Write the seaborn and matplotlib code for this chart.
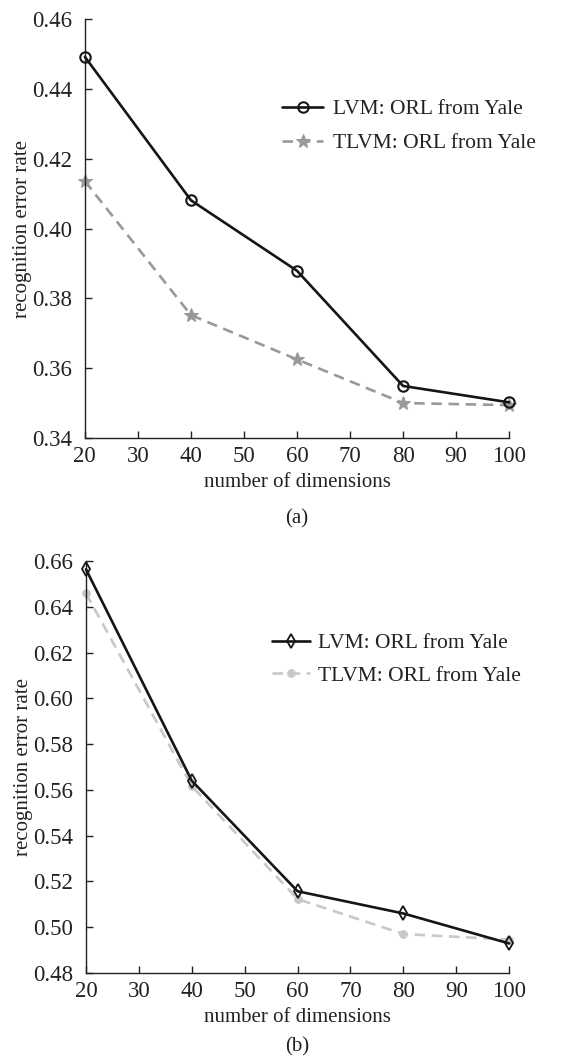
import matplotlib
matplotlib.use("Agg")
import matplotlib.pyplot as plt
import seaborn as sns
import pandas as pd

dims = [20, 40, 60, 80, 100]
a_lvm = [0.4492, 0.4081, 0.3879, 0.3549, 0.3502]
a_tlvm = [0.4136, 0.3752, 0.3625, 0.3500, 0.3494]
b_lvm = [0.6564, 0.5640, 0.5157, 0.5060, 0.4929]
b_tlvm = [0.6459, 0.5617, 0.5123, 0.4970, 0.4946]
label_lvm = "LVM: ORL from Yale"
label_tlvm = "TLVM: ORL from Yale"
xticks = [20, 30, 40, 50, 60, 70, 80, 90, 100]
a_yticks = [0.34, 0.36, 0.38, 0.40, 0.42, 0.44, 0.46]
b_yticks = [0.48, 0.50, 0.52, 0.54, 0.56, 0.58, 0.60, 0.62, 0.64, 0.66]

sns.set_theme(style="ticks")
plt.rcParams['font.family'] = ['Liberation Serif', 'DejaVu Serif']
plt.rcParams['xtick.direction'] = 'in'
plt.rcParams['ytick.direction'] = 'in'
FS = 16.5
LFS = 15
LEGFS = 15.5
TC = "#222222"

fig = plt.figure(figsize=(5.62, 10.63), dpi=100)
ax1 = fig.add_axes([0.151, 0.588, 0.755, 0.394])
ax2 = fig.add_axes([0.153, 0.0847, 0.753, 0.3875])

def panel(ax, lvm, tlvm, m1, m2, c2, ms1, ms2, mew1, yt, letter, letter_y):
    df1 = pd.DataFrame({"x": dims, "y": lvm})
    df2 = pd.DataFrame({"x": dims, "y": tlvm})
    sns.lineplot(data=df1, x="x", y="y", ax=ax, color="#151515", lw=1.9,
                 marker=m1, markersize=ms1, markerfacecolor="none",
                 markeredgecolor="#151515", markeredgewidth=mew1,
                 label=label_lvm, clip_on=False, zorder=3)
    sns.lineplot(data=df2, x="x", y="y", ax=ax, color=c2, lw=1.9,
                 linestyle=(0, (4, 2.5)), marker=m2, markersize=ms2,
                 markerfacecolor=c2, markeredgecolor=c2,
                 label=label_tlvm, clip_on=False, zorder=2)
    ax.set_xlim(20, 100)
    ax.set_ylim(yt[0], yt[-1])
    ax.set_xticks(xticks)
    ax.set_yticks(yt)
    ax.set_yticklabels([f"{v:.2f}" for v in yt], fontsize=FS)
    ax.set_xticklabels([str(v) for v in xticks], fontsize=FS)
    ax.tick_params(length=5, width=1, color=TC, labelcolor=TC)
    ax.tick_params(axis="x", pad=6)
    ax.tick_params(axis="y", pad=9)
    sns.despine(ax=ax)
    for s in ["left", "bottom"]:
        ax.spines[s].set_linewidth(1.0)
        ax.spines[s].set_color(TC)
    ax.set_ylabel("recognition error rate", fontsize=LFS, color=TC, labelpad=0)
    ax.set_xlabel("number of dimensions", fontsize=LFS, color=TC, labelpad=4)
    ax.text(0.5, letter_y, letter, transform=ax.transAxes, ha="center",
            va="center", fontsize=LFS, color=TC)
    return ax

panel(ax1, a_lvm, a_tlvm, "o", "*", "#999999", 7.5, 10, 1.5, a_yticks, "(a)", -0.193)
panel(ax2, b_lvm, b_tlvm, "d", "o", "#c8c8c8", 7, 5.5, 1.3, b_yticks, "(b)", -0.18)

ax1.legend(loc="upper left", bbox_to_anchor=(0.465, 0.809), frameon=False,
           fontsize=LEGFS, handlelength=1.9, handletextpad=0.47, labelspacing=0.64,
           borderpad=0, borderaxespad=0, labelcolor=TC)
ax2.legend(loc="upper left", bbox_to_anchor=(0.44, 0.825), frameon=False,
           fontsize=LEGFS, handlelength=1.75, handletextpad=0.4, labelspacing=0.57,
           borderpad=0, borderaxespad=0, labelcolor=TC)

fig.savefig("out.png", dpi=100)
